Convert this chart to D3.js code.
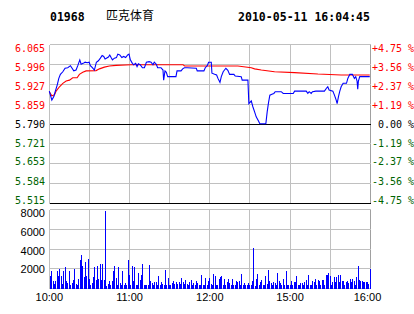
<!DOCTYPE html>
<html><head><meta charset="utf-8">
<script src="https://cdn.jsdelivr.net/npm/d3@7"></script>
<style>html,body{margin:0;padding:0;background:#fff;}svg{display:block;}</style>
</head><body>
<svg id="c" width="414" height="314"></svg>
<script>
// ---- data ----
const stockCode = "01968";
const stockName = "匹克体育";
const stamp = "2010-05-11 16:04:45";
const prevClose = 5.790;
const priceTicks = [6.065, 5.996, 5.927, 5.859, 5.790, 5.721, 5.653, 5.584, 5.515];
const pctLabels = ["+4.75 %","+3.56 %","+2.37 %","+1.19 %"," 0.00 %","-1.19 %","-2.37 %","-3.56 %","-4.75 %"];
const volTicks = [2000, 4000, 6000, 8000];
const timeLabels = ["10:00","11:00","12:00","15:00","16:00"];
const timeMinutes = [0, 60, 120, 180, 240]; // session minutes (10:00-12:30, 14:30-16:00)

// price line (session minute, price)
const priceTimes = [0,1.9,3.4,4.4,5.9,7.1,8.3,10.1,11.8,13.8,15.8,16.8,18.3,20.0,21.3,22.8,23.8,25.3,26.8,28.3,29.8,30.7,32.2,33.7,35.2,36.7,38.2,39.5,40.7,41.7,42.7,44.2,45.2,46.2,47.2,48.7,50.2,51.2,52.7,54.2,55.6,57.1,58.6,59.6,60.6,62.1,63.1,64.6,65.6,66.6,68.1,69.6,71.1,72.6,74.6,76.1,77.5,78.5,80.0,81.0,83.5,85.0,85.5,86.5,87.5,88.5,91.0,94.7,95.5,98.5,99.7,101.0,103.0,109.9,110.6,115.6,116.6,118.1,119.1,121.1,121.6,123.6,125.1,126.1,127.6,128.6,130.0,132.0,133.5,134.8,138.0,139.0,143.5,144.2,148.5,149.2,151.0,152.2,153.5,154.7,156.5,157.4,161.9,162.9,163.9,164.9,166.4,167.9,168.9,173.4,174.9,182.4,183.4,192.1,193.3,194.3,195.8,196.8,199.3,205.7,207.2,208.2,209.2,212.0,213.2,214.5,215.2,216.2,217.2,218.2,219.7,222.2,223.2,224.7,226.6,228.1,229.1,230.1,230.6,231.1,232.1,239.6];
const priceValues = [5.902,5.871,5.883,5.900,5.923,5.946,5.960,5.969,5.981,5.983,5.990,5.983,5.972,5.975,5.990,6.010,5.995,5.998,6.002,6.000,6.002,5.990,5.983,5.975,6.002,6.007,6.016,6.025,6.022,6.013,6.016,6.020,6.027,6.018,6.010,6.016,6.018,6.030,6.027,6.018,6.022,6.018,6.027,6.030,6.010,5.998,5.993,5.998,5.987,5.997,5.993,5.983,5.983,6.002,6.004,6.002,5.993,6.002,5.995,5.983,5.983,5.975,5.940,5.972,5.967,5.952,5.952,5.952,5.972,5.972,5.979,5.983,5.983,5.981,5.972,5.972,5.983,5.990,6.002,6.002,5.964,5.960,5.958,5.946,5.932,5.952,5.969,5.981,5.974,5.960,5.960,5.954,5.952,5.940,5.940,5.859,5.868,5.848,5.830,5.813,5.798,5.789,5.789,5.830,5.862,5.888,5.891,5.894,5.900,5.900,5.894,5.894,5.902,5.902,5.894,5.900,5.894,5.900,5.902,5.902,5.912,5.917,5.906,5.902,5.888,5.871,5.859,5.883,5.902,5.917,5.929,5.929,5.946,5.960,5.960,5.946,5.952,5.937,5.909,5.937,5.952,5.952];

// average price line
const avgTimes = [0,1.9,3.9,5.1,7.6,10.1,12.6,15.1,17.5,20.8,22.5,25.0,27.5,35.0,37.5,41.2,44.9,49.9,61.1,100.0,101.2,141.0,151.0,153.5,158.5,168.4,183.4,200.8,218.2,239.6];
const avgValues = [5.900,5.886,5.889,5.902,5.917,5.929,5.937,5.940,5.948,5.948,5.960,5.967,5.972,5.973,5.979,5.985,5.989,5.991,5.993,5.993,5.989,5.989,5.983,5.979,5.975,5.969,5.966,5.961,5.958,5.958];

// volume per minute (10:00-12:00, then 12:00-12:30 + 14:30-16:00)
const volAM = [1250,1750,750,400,750,1750,1250,1950,1250,400,1700,2100,680,470,1750,340,470,850,1950,400,340,950,2870,3300,2260,1080,2630,1180,2970,950,340,500,1080,2100,850,2200,950,2430,850,2430,850,7840,170,400,750,340,750,1750,2260,1000,340,2160,500,270,1750,270,500,340,2870,1280,340,2260,750,2100,340,340,1520,850,1280,2430,340,340,340,340,2370,680,500,340,610,610,340,1180,340,610,400,340,1860,340,1000,340,340,500,680,400,610,400,610,400,1000,610,400,850,400,340,610,800,340,500,340,680,470,340,340,1280,340,340,1000,340,680,1000];
const volPM = [400,340,1420,1250,340,340,950,1080,1250,340,950,340,610,950,500,340,950,340,340,750,610,750,340,1450,340,500,340,340,500,340,340,750,4060,170,950,1420,340,610,850,340,340,1180,400,1860,750,500,340,610,500,340,1520,750,500,340,950,340,1700,340,340,340,750,340,610,610,1250,340,340,500,500,340,610,850,340,1350,340,340,750,610,950,340,850,750,340,850,850,340,1350,1350,1520,1180,340,610,1080,610,1080,1350,610,1350,750,750,340,610,750,500,950,610,950,750,340,1080,2260,850,680,750,610,610,610,610,400,1950];

// ---- drawing ----
const svg = d3.select("#c");
svg.append("rect").attr("width",414).attr("height",314).attr("fill","#fff");

const x = d3.scaleLinear().domain([0,240]).range([49.3,370.3]);
const y = d3.scaleLinear().domain([5.515,6.065]).range([203,44]);
const yLab = d3.scaleLinear().domain([5.515,6.065]).range([200,48]);   // label centres, kept inside panel
const yv = d3.scaleLinear().domain([0,8000]).range([288,209]);
const yvLab = d3.scaleLinear().domain([0,8000]).range([288,213]);
const cx = v => Math.floor(v)+0.5;
const cy = v => Math.round(v)+0.5;
const grid = "#c0c0c0";
const mono = "'DejaVu Sans Mono', monospace";
const sans = "'Liberation Sans', Arial, sans-serif";

// header
svg.append("text").attr("x",50).attr("y",21).attr("font-family",mono).attr("font-weight","bold")
  .attr("font-size",11.5).attr("fill","#000").text(stockCode);
svg.append("text").attr("x",106).attr("y",20).attr("font-family","'Noto Sans CJK SC', sans-serif")
  .attr("font-size",12).attr("fill","#000").text(stockName);
svg.append("text").attr("x",238).attr("y",21).attr("font-family",mono).attr("font-weight","bold")
  .attr("font-size",11.5).attr("textLength",132).attr("lengthAdjust","spacingAndGlyphs").attr("fill","#000").text(stamp);

// price panel grid
const gP = svg.append("g").attr("shape-rendering","crispEdges");
const vMinutes = d3.range(0,241,30);
gP.selectAll("line.v").data(vMinutes).join("line")
  .attr("x1",d=>cx(x(d))).attr("x2",d=>cx(x(d))).attr("y1",cy(y(6.065))).attr("y2",cy(y(5.515)))
  .attr("stroke",d=> d===240 ? "#a0a0a0" : grid);
gP.selectAll("line.h").data(priceTicks).join("line")
  .attr("x1",cx(x(0))).attr("x2",cx(x(240))).attr("y1",d=>cy(y(d))).attr("y2",d=>cy(y(d)))
  .attr("stroke",d=> (d===prevClose || d===5.515) ? "#000" : grid);

// price labels
const colorFor = (d)=> d>prevClose+1e-9 ? "#ff0000" : (d<prevClose-1e-9 ? "#006400" : "#000");
svg.selectAll("text.pl").data(priceTicks).join("text")
  .attr("x",45).attr("y",d=>yLab(d)+3.6).attr("text-anchor","end")
  .attr("font-family",mono).attr("font-size",10).attr("fill",colorFor)
  .text(d=>d.toFixed(3));
svg.selectAll("text.pr").data(priceTicks).join("text")
  .attr("x",372).attr("y",d=>yLab(d)+3.6).attr("xml:space","preserve")
  .attr("font-family",mono).attr("font-size",10).attr("fill",colorFor)
  .style("white-space","pre")
  .text((d,i)=>pctLabels[i]);

// lines
const avgPts = avgTimes.map((t,i)=>[t,avgValues[i]]);
const pricePts = priceTimes.map((t,i)=>[t,priceValues[i]]);
const line = d3.line().x(d=>x(d[0])).y(d=>y(d[1]));
svg.append("path").datum(avgPts).attr("d",line).attr("fill","none").attr("stroke","#ff0000").attr("stroke-width",1.1);
svg.append("path").datum(pricePts).attr("d",line).attr("fill","none").attr("stroke","#0000ff").attr("stroke-width",1.1);

// volume panel
const gV = svg.append("g").attr("shape-rendering","crispEdges");
gV.selectAll("line.v").data(vMinutes).join("line")
  .attr("x1",d=>cx(x(d))).attr("x2",d=>cx(x(d))).attr("y1",cy(yv(8000))).attr("y2",cy(yv(0)))
  .attr("stroke",d=> d===240 ? "#a0a0a0" : grid);
gV.selectAll("line.h").data([0].concat(volTicks)).join("line")
  .attr("x1",cx(x(0))).attr("x2",cx(x(240))).attr("y1",d=>cy(yv(d))).attr("y2",d=>cy(yv(d)))
  .attr("stroke",grid);

const vols = volAM.concat(volPM);
gV.selectAll("rect.b").data(vols).join("rect")
  .attr("x",(d,i)=>Math.round(x(i+0.6)))
  .attr("width",1)
  .attr("y",d=>Math.round(yv(d)))
  .attr("height",d=>Math.round(yv(0))+1-Math.round(yv(d)))
  .attr("fill","#0000ff");

svg.selectAll("text.vl").data(volTicks).join("text")
  .attr("x",45).attr("y",d=>yvLab(d)+4).attr("text-anchor","end")
  .attr("font-family",sans).attr("font-size",11).attr("fill","#000")
  .text(d=>d);

svg.selectAll("text.tl").data(timeMinutes).join("text")
  .attr("x",d=>Math.min(x(d),367.5)).attr("y",301).attr("text-anchor","middle")
  .attr("font-family",sans).attr("font-size",11).attr("fill","#000")
  .text((d,i)=>timeLabels[i]);
</script>
</body></html>
